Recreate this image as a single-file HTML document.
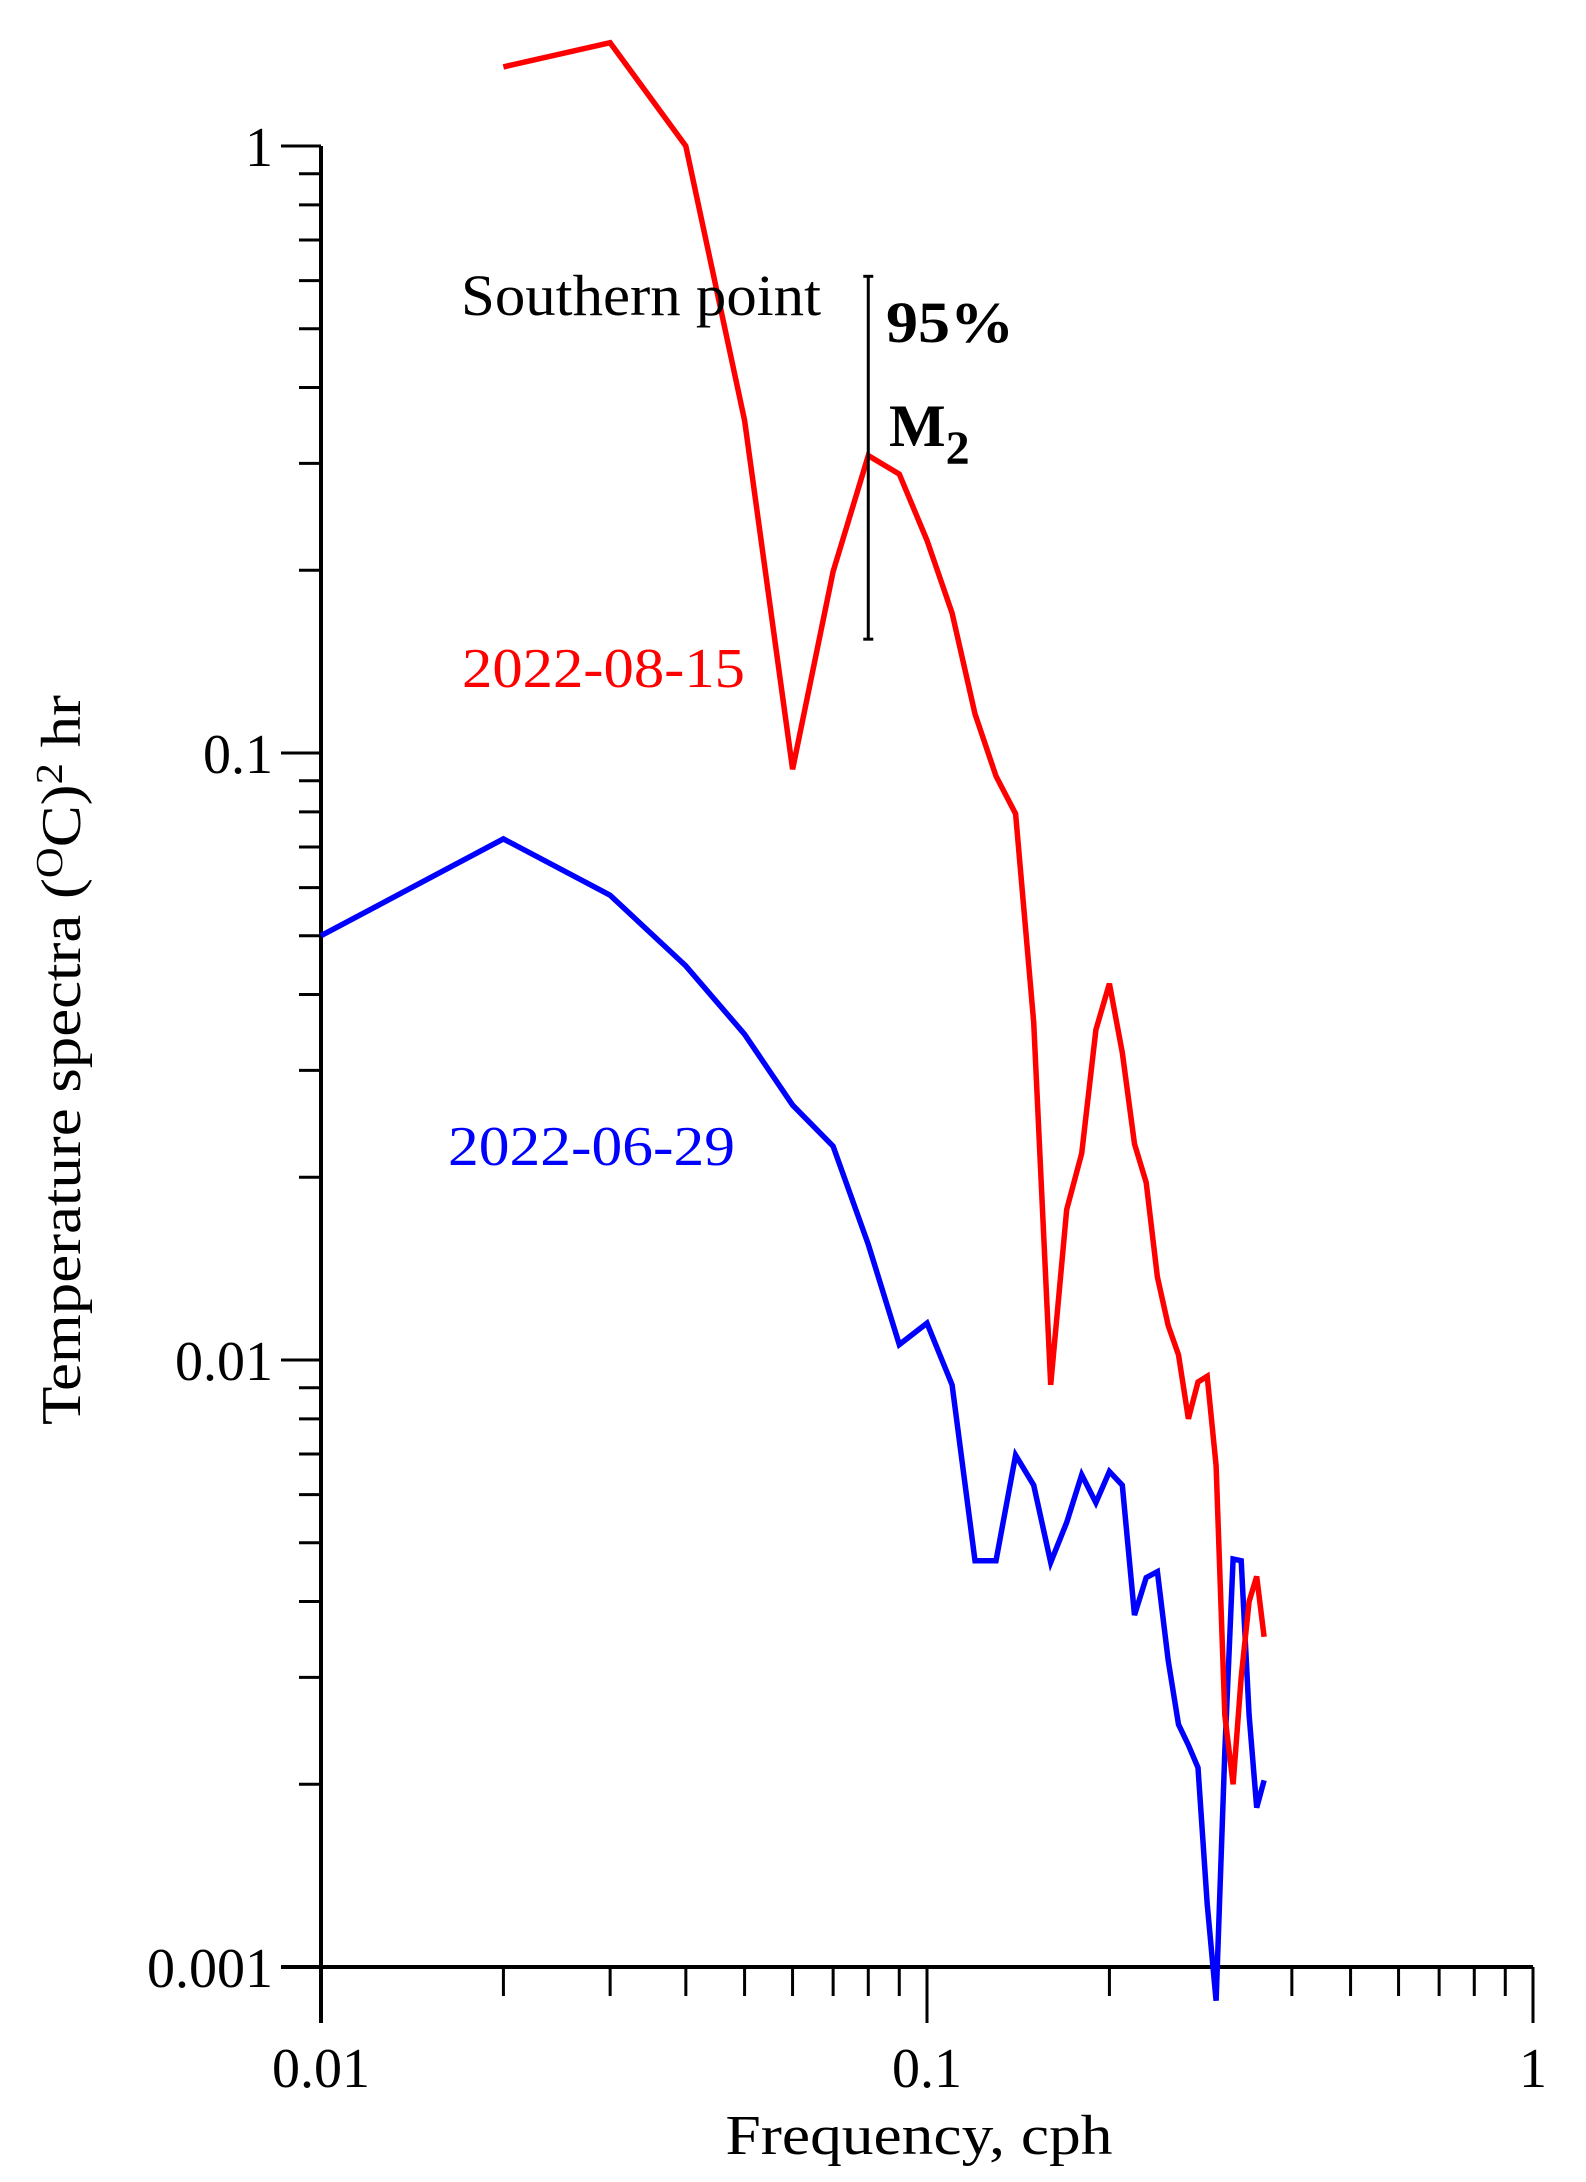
<!DOCTYPE html>
<html><head><meta charset="utf-8">
<style>
html,body{margin:0;padding:0;background:#fff;}
svg{display:block;font-family:"Liberation Serif","Times New Roman",serif;}
</style></head>
<body>
<svg id="chart" width="1586" height="2182" viewBox="0 0 1586 2182" xmlns="http://www.w3.org/2000/svg">
<rect width="1586" height="2182" fill="#fff"/>
<g id="axes"></g>
<g id="series"></g>
<g id="annot"></g>
<text x="461" y="315" font-size="58" textLength="360" lengthAdjust="spacingAndGlyphs">Southern point</text>
<text x="886" y="342" font-size="58" font-weight="bold" textLength="128" lengthAdjust="spacingAndGlyphs">95%</text>
<text x="889" y="446" font-size="60" font-weight="bold">M<tspan font-size="48" dy="18">2</tspan></text>
<text x="462" y="687" font-size="56" fill="#ff0000" textLength="283" lengthAdjust="spacingAndGlyphs">2022-08-15</text>
<text x="448" y="1165" font-size="56" fill="#0000ff" textLength="287" lengthAdjust="spacingAndGlyphs">2022-06-29</text>
<text x="919" y="2154" font-size="56" text-anchor="middle" textLength="387" lengthAdjust="spacingAndGlyphs">Frequency, cph</text>
<text transform="translate(80,1060) rotate(-90)" font-size="56" text-anchor="middle" textLength="730" lengthAdjust="spacingAndGlyphs">Temperature spectra (<tspan font-size="38" dy="-18">O</tspan><tspan dy="18">C)</tspan><tspan font-size="38" dy="-18">2</tspan><tspan dy="18"> hr</tspan></text>
</svg>
<script>
const xTickValues = [0.01, 0.1, 1];
const xTickLabels = ["0.01", "0.1", "1"];
const yTickValues = [1, 0.1, 0.01, 0.001];
const yTickLabels = ["1", "0.1", "0.01", "0.001"];
const redFreq = [0.02,0.03,0.04,0.05,0.06,0.07,0.08,0.09,0.10,0.11,0.12,0.13,0.14,0.15,0.16,0.17,0.18,0.19,0.20,0.21,0.22,0.23,0.24,0.25,0.26,0.27,0.28,0.29,0.30,0.31,0.32,0.33,0.34,0.35,0.36];
const redValues = [1.35,1.48,1.0,0.353,0.094,0.199,0.309,0.288,0.224,0.170,0.116,0.0916,0.0794,0.036,0.0091,0.0177,0.0219,0.035,0.0417,0.0321,0.0227,0.0196,0.0137,0.0114,0.0102,0.0080,0.0092,0.0094,0.0067,0.0026,0.0020,0.0030,0.0040,0.0044,0.0035];
const blueFreq = [0.01,0.02,0.03,0.04,0.05,0.06,0.07,0.08,0.09,0.10,0.11,0.12,0.13,0.14,0.15,0.16,0.17,0.18,0.19,0.20,0.21,0.22,0.23,0.24,0.25,0.26,0.27,0.28,0.29,0.30,0.31,0.32,0.33,0.34,0.35,0.36];
const blueValues = [0.050,0.0722,0.0583,0.0446,0.0344,0.0263,0.0225,0.0155,0.0106,0.0115,0.0091,0.00467,0.00467,0.00697,0.00622,0.00464,0.0054,0.00647,0.00582,0.00655,0.00622,0.0038,0.00438,0.00448,0.0032,0.00251,0.00232,0.00213,0.00127,0.00088,0.00226,0.0047,0.00467,0.0026,0.00183,0.00203];
const errorBarFreq = 0.08;
const errorBarLow = 0.154;
const errorBarHigh = 0.61;

const NS = "http://www.w3.org/2000/svg";
const X0 = 321, XDEC = 606, Y0 = 146, YDEC = 607;
function xScale(f){ return X0 + XDEC * Math.log10(f / 0.01); }
function yScale(v){ return Y0 - YDEC * Math.log10(v); }
function mk(tag, attrs, parent){ const e = document.createElementNS(NS, tag); for (const k in attrs) e.setAttribute(k, attrs[k]); parent.appendChild(e); return e; }

const axes = document.getElementById("axes");
const yBottom = yScale(0.001), xRight = xScale(1);
let ln = mk("line", {x1:X0, y1:yScale(1), x2:X0, y2:yBottom+56, stroke:"#000","stroke-width":4}, axes);


ln = mk("line", {x1:X0-40, y1:yBottom, x2:xRight, y2:yBottom, stroke:"#000","stroke-width":4}, axes);



for (let d = 0; d < 3; d++) {
  const base = Math.pow(10, -d - 1);
  for (let m = 2; m <= 9; m++) {
    const y = yScale(base * m);
    const t = mk("line", {x1:X0-22, y1:y, x2:X0, y2:y, stroke:"#000","stroke-width":3}, axes);
    
    
  }
}
yTickValues.forEach((v, i) => {
  const y = yScale(v);
  const t = mk("line", {x1:X0-40, y1:y, x2:X0, y2:y, stroke:"#000","stroke-width":3}, axes);
  
  
  const lb = mk("text", {x:X0-48, y:y+20, "font-size":56, "text-anchor":"end"}, axes);
  lb.textContent = yTickLabels[i];
  
  
});
for (let d = 0; d < 2; d++) {
  const base = 0.01 * Math.pow(10, d);
  for (let m = 2; m <= 9; m++) {
    const x = xScale(base * m);
    const t = mk("line", {x1:x, y1:yBottom, x2:x, y2:yBottom+29, stroke:"#000","stroke-width":3}, axes);
    
    
  }
}
xTickValues.forEach((v, i) => {
  const x = xScale(v);
  const t = mk("line", {x1:x, y1:yBottom, x2:x, y2:yBottom+56, stroke:"#000","stroke-width":3}, axes);
  
  
  const lb = mk("text", {x:x, y:2087, "font-size":56, "text-anchor":"middle"}, axes);
  lb.textContent = xTickLabels[i];
  
  
});

const series = document.getElementById("series");
function pts(fs, vs){ return fs.map((f, i) => xScale(f).toFixed(1) + "," + yScale(vs[i]).toFixed(1)).join(" "); }
const blue = mk("polyline", {points:pts(blueFreq, blueValues), fill:"none", stroke:"#0000ff","stroke-width":5.5,"stroke-linejoin":"miter"}, series);


const red = mk("polyline", {points:pts(redFreq, redValues), fill:"none", stroke:"#ff0000","stroke-width":5.5,"stroke-linejoin":"miter"}, series);



const annot = document.getElementById("annot");
const ex = xScale(errorBarFreq), ey1 = yScale(errorBarHigh), ey2 = yScale(errorBarLow);
const eb = mk("line", {x1:ex, y1:ey1, x2:ex, y2:ey2, stroke:"#000","stroke-width":3}, annot);


const c1 = mk("line", {x1:ex-5, y1:ey1, x2:ex+5, y2:ey1, stroke:"#000","stroke-width":3}, annot);


const c2 = mk("line", {x1:ex-5, y1:ey2, x2:ex+5, y2:ey2, stroke:"#000","stroke-width":3}, annot);


</script>
</body></html>
